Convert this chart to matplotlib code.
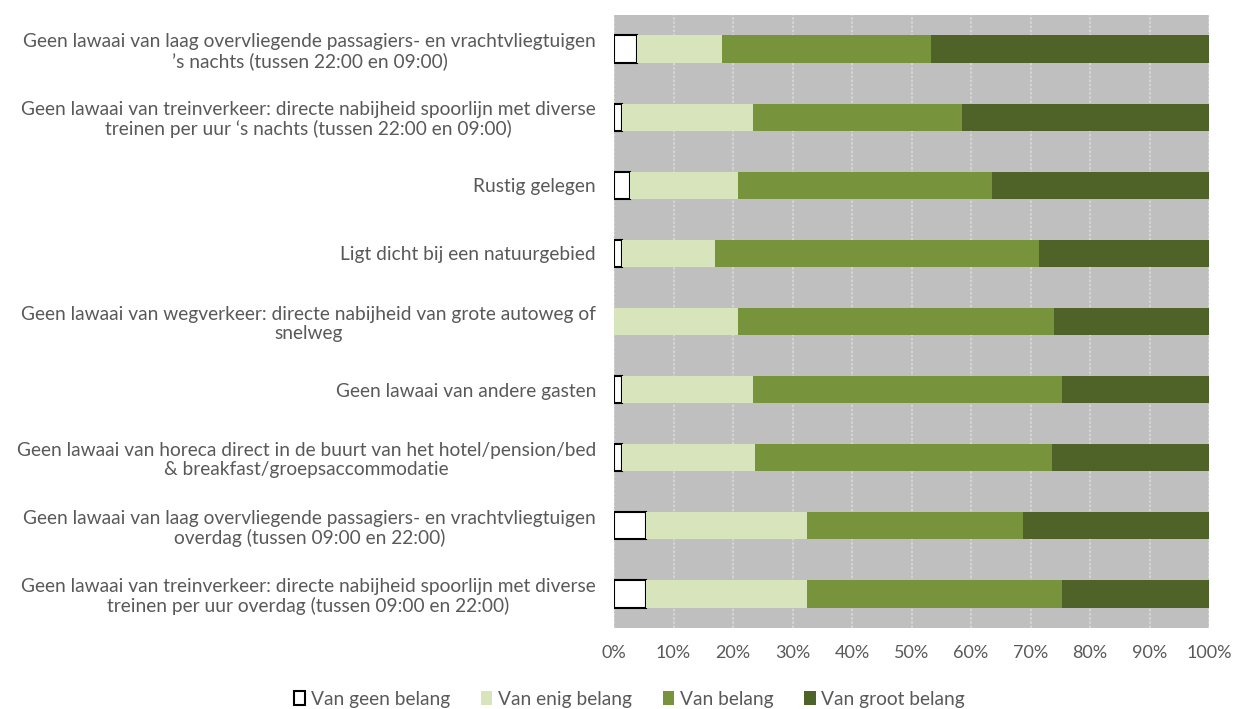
import matplotlib
matplotlib.use("Agg")
import matplotlib.pyplot as plt
import numpy as np
from matplotlib.patches import Patch

categories = [
    "Geen lawaai van laag overvliegende passagiers- en vrachtvliegtuigen\n\u2019s nachts (tussen 22:00 en 09:00)",
    "Geen lawaai van treinverkeer: directe nabijheid spoorlijn met diverse\ntreinen per uur \u2018s nachts (tussen 22:00 en 09:00)",
    "Rustig gelegen",
    "Ligt dicht bij een natuurgebied",
    "Geen lawaai van wegverkeer: directe nabijheid van grote autoweg of\nsnelweg",
    "Geen lawaai van andere gasten",
    "Geen lawaai van horeca direct in de buurt van het hotel/pension/bed\n& breakfast/groepsaccommodatie",
    "Geen lawaai van laag overvliegende passagiers- en vrachtvliegtuigen\noverdag (tussen 09:00 en 22:00)",
    "Geen lawaai van treinverkeer: directe nabijheid spoorlijn met diverse\ntreinen per uur overdag (tussen 09:00 en 22:00)",
]
series_names = ["Van geen belang", "Van enig belang", "Van belang", "Van groot belang"]
geen = [3.9, 1.4, 2.7, 1.4, 0.0, 1.4, 1.4, 5.3, 5.3]
enig = [14.3, 22.0, 18.2, 15.6, 20.9, 22.0, 22.3, 27.2, 27.2]
belang = [35.1, 35.1, 42.6, 54.4, 53.1, 51.9, 49.9, 36.2, 42.8]
groot = [46.7, 41.5, 36.5, 28.6, 26.0, 24.7, 26.4, 31.3, 24.7]
xticks = [0, 10, 20, 30, 40, 50, 60, 70, 80, 90, 100]
xticklabels = ["0%", "10%", "20%", "30%", "40%", "50%", "60%", "70%", "80%", "90%", "100%"]

colors = ["#FFFFFF", "#D8E4BC", "#77933C", "#4F6228"]
edgecols = ["#000000", "none", "none", "none"]
text_col = "#595959"

plt.rcParams['font.family'] = ['Lato', 'DejaVu Sans']

fig = plt.figure(figsize=(12.34, 7.09), dpi=100)
ax = fig.add_axes([614/1234, 81/709, 595/1234, 613/709])
ax.set_facecolor("#BFBFBF")

y = np.arange(len(categories))
left = np.zeros(len(categories))
for vals, c, ec, name in zip([geen, enig, belang, groot], colors, edgecols, series_names):
    vals = np.array(vals)
    ax.barh(y, vals, left=left, height=0.4, color=c,
            edgecolor=ec, linewidth=1.5 if ec != "none" else 0, label=name, zorder=3)
    left = left + vals

ax.set_xlim(0, 100)
ax.set_ylim(len(categories) - 0.5, -0.5)
ax.set_xticks(xticks)
ax.set_xticklabels(xticklabels, color=text_col, fontsize=13)
ax.set_yticks(y)
ax.set_yticklabels(categories, color=text_col, fontsize=13.8, multialignment="center",
                   linespacing=1.12)
ax.tick_params(axis="both", length=0)
ax.tick_params(axis="x", pad=12)
ax.tick_params(axis="y", pad=13)
ax.xaxis.grid(True, color="#D9D9D9", linestyle=(0, (1.5, 1)), linewidth=1.2, zorder=0)
ax.set_axisbelow(True)
for s in ax.spines.values():
    s.set_visible(False)

handles = [Patch(facecolor=c, edgecolor=("#000000" if i == 0 else c), linewidth=1.5 if i == 0 else 0)
           for i, c in enumerate(colors)]
leg = fig.legend(handles, series_names, loc="center", bbox_to_anchor=(0.51, 10/709),
                 ncol=4, frameon=False, fontsize=13.8, handlelength=0.6, handleheight=0.8,
                 handletextpad=0.3, columnspacing=1.6)
for t in leg.get_texts():
    t.set_color(text_col)

fig.savefig("out.png", dpi=100, facecolor="white")
